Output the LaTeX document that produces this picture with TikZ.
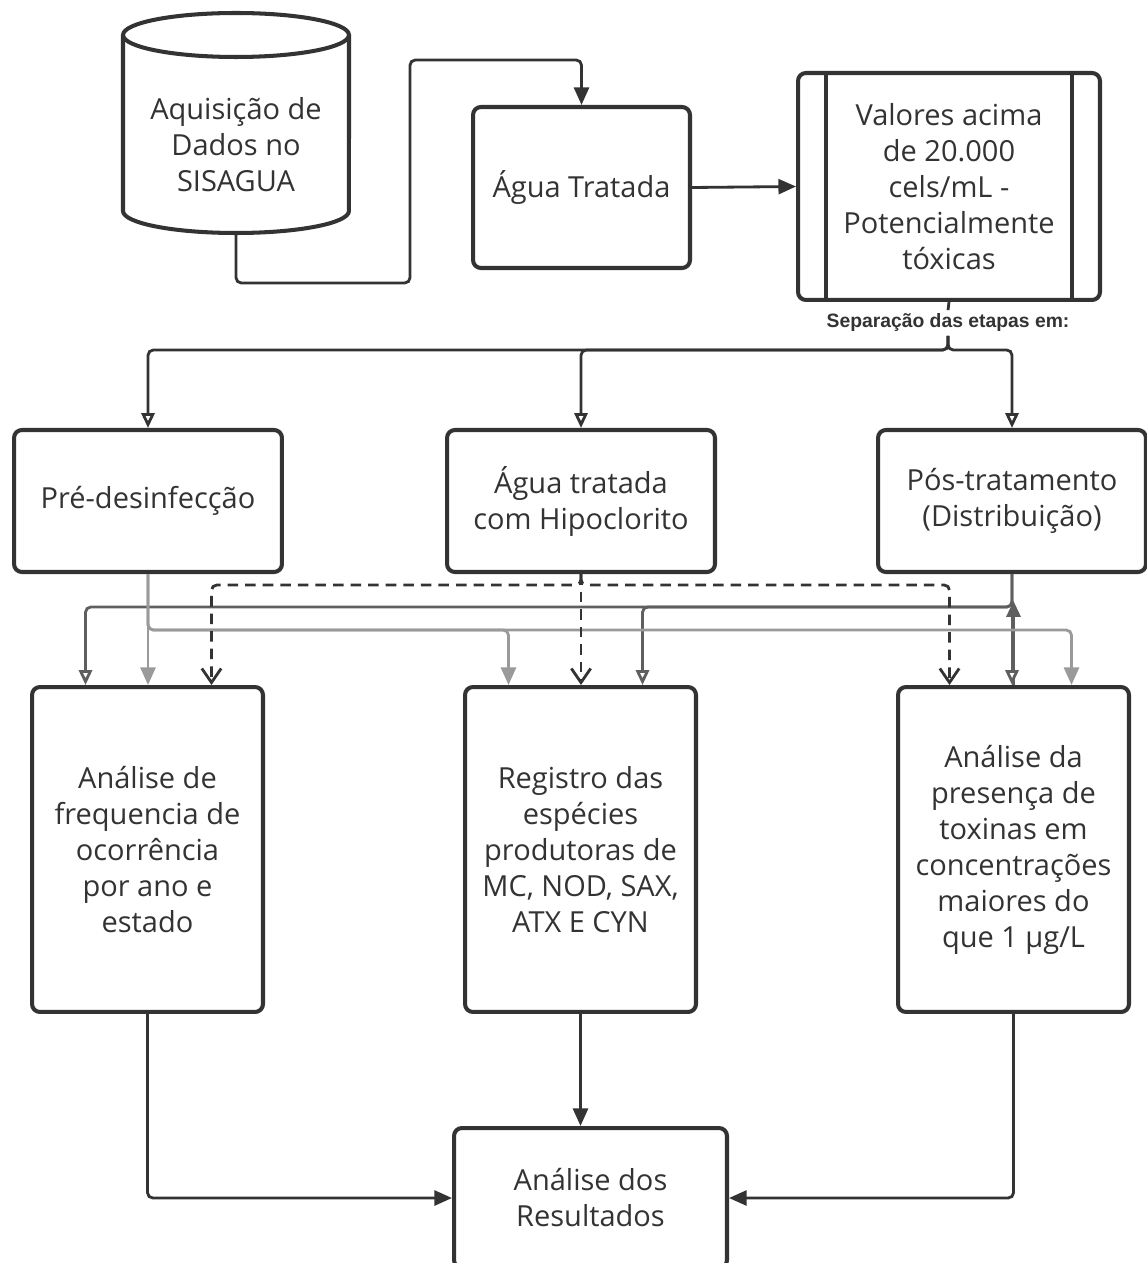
\documentclass[tikz,border=0pt]{standalone}
\usepackage{fontspec}
\setmainfont{Open Sans}
\newfontfamily\sepfont{Liberation Sans}
\usepackage{tikz}
\usetikzlibrary{shapes,backgrounds,arrows.meta,calc}

\definecolor{boxgray}{HTML}{333333}
\definecolor{pregray}{HTML}{9A9A9A}
\definecolor{posgray}{HTML}{5F5F5F}

\tikzset{
	etapa/.style={draw=boxgray, line width=2.3pt, rounded corners=4.5pt, fill=white, align=center, text=boxgray, font=\fontsize{16.5}{20.5}\selectfont, inner sep=0pt},
	seta/.style={draw=boxgray, line width=1.6pt, rounded corners=3pt},
	cheia/.style={-{Triangle[length=10pt,width=8.5pt]}},
	vazia/.style={-{Triangle[open,length=8.5pt,width=7.5pt,fill=white]}},
	aberta/.style={-{Straight Barb[length=8pt,width=11pt]}},
}

\begin{document}
\begin{tikzpicture}[x=0.02cm, y=-0.02cm]
			\useasboundingbox (0,0) rectangle (1146,1263);
			\begin{scope}[draw=boxgray, line width=2.3pt] % cilindro
				\draw[fill=white] (123,35) -- (123,211) arc[start angle=180, end angle=360, x radius=2.26cm, y radius=0.44cm] -- (349,35);
				\draw (236,35) ellipse [x radius=2.26cm, y radius=0.44cm];
			\end{scope}
			\node[align=center, text=boxgray, font=\fontsize{16.5}{20.5}\selectfont] (sis) at (236,145) {Aquisição de\\Dados no\\SISAGUA};
			\coordinate (sisbase) at (236,233);
			% primeira linha
			\node[etapa, minimum width=4.34cm, minimum height=3.22cm] (agua) at (581.5,187.5) {Água Tratada};
			\node[etapa, minimum width=6.04cm, minimum height=4.54cm] (val) at (949,186.5) {Valores acima\\de 20.000\\cels/mL -\\Potencialmente\\tóxicas};
			\draw[draw=boxgray, line width=2.3pt] (val.north west) ++(30,0) -- ++(0,227);
			\draw[draw=boxgray, line width=2.3pt] (val.north east) ++(-30,0) -- ++(0,227);
			\draw[seta, cheia] (sisbase) -- ++(0,50) -| (410,60) -| (agua.north);
			\draw[seta, cheia] (agua.east) -- (val.west);
			\node[font=\sepfont\bfseries\fontsize{11}{13}\selectfont, text=boxgray, inner sep=2pt] (sep) at (948,323) {Separação das etapas em:};
			\draw[seta] (val.south) -- (sep.north);
			% etapas
			\node[etapa, minimum width=5.36cm, minimum height=2.84cm] (pre) at (148,501) {Pré-desinfecção};
			\node[etapa, minimum width=5.36cm, minimum height=2.84cm] (hip) at (581,501) {Água tratada\\com Hipoclorito};
			\node[etapa, minimum width=5.36cm, minimum height=2.84cm] (pos) at (1012,501) {Pós-tratamento\\(Distribuição)};
			\foreach \alvo in {pre, hip, pos}
				\draw[seta, vazia] (sep.south) |- (\alvo.north |- 0,350) -- (\alvo.north);
			% analises
			\node[etapa, minimum width=4.62cm, minimum height=6.5cm] (ana1) at (147.5,849.5) {Análise de\\frequencia de\\ocorrência\\por ano e\\estado};
			\node[etapa, minimum width=4.62cm, minimum height=6.5cm] (reg) at (580.5,849.5) {Registro das\\espécies\\produtoras de\\MC, NOD, SAX,\\ATX E CYN};
			\node[etapa, minimum width=4.62cm, minimum height=6.5cm] (ana2) at (1013.5,849.5) {Análise da\\presença de\\toxinas em\\concentrações\\maiores do\\que 1 µg/L};
			\begin{scope}[seta, draw=posgray] % pos-tratamento
				\draw[-{Triangle[length=9pt,width=8pt]}] (ana2.north) -- ++(0,-84);
				\draw[vazia] (pos.south) -- (pos.south |- ana2.north);
				\draw[vazia] (pos.south) -- ++(0,33) -| ($(ana1.north)+(-62,0)$);
				\draw[vazia] (pos.south) -- ++(0,33) -| ($(reg.north)+(62,0)$);
			\end{scope}
			\begin{scope}[seta, draw=pregray] % pre-desinfeccao
				\draw[cheia] (pre.south) -- (pre.south |- ana1.north);
				\draw[cheia] (pre.south) -- ++(0,56) -| ($(reg.north)+(-72,0)$);
				\draw[cheia] (pre.south) -- ++(0,56) -| ($(ana2.north)+(58,0)$);
			\end{scope}
			\begin{scope}[seta, dash pattern=on 6pt off 4pt] % hipoclorito
				\draw[aberta] (hip.south) -- ++(0,11) -| ($(ana1.north)+(64,0)$);
				\draw[aberta] (hip.south) -- (hip.south |- reg.north);
				\draw[aberta] (hip.south) -- ++(0,11) -| ($(ana2.north)+(-64,0)$);
			\end{scope}
			% resultados
			\node[etapa, minimum width=5.46cm, minimum height=2.8cm] (res) at (590.5,1198) {Análise dos\\Resultados};
			\draw[seta, cheia] (ana1.south) |- (res.west);
			\draw[seta, cheia] (reg.south) -- (reg.south |- res.north);
			\draw[seta, cheia] (ana2.south) |- (res.east);
		\end{tikzpicture}
\end{document}
